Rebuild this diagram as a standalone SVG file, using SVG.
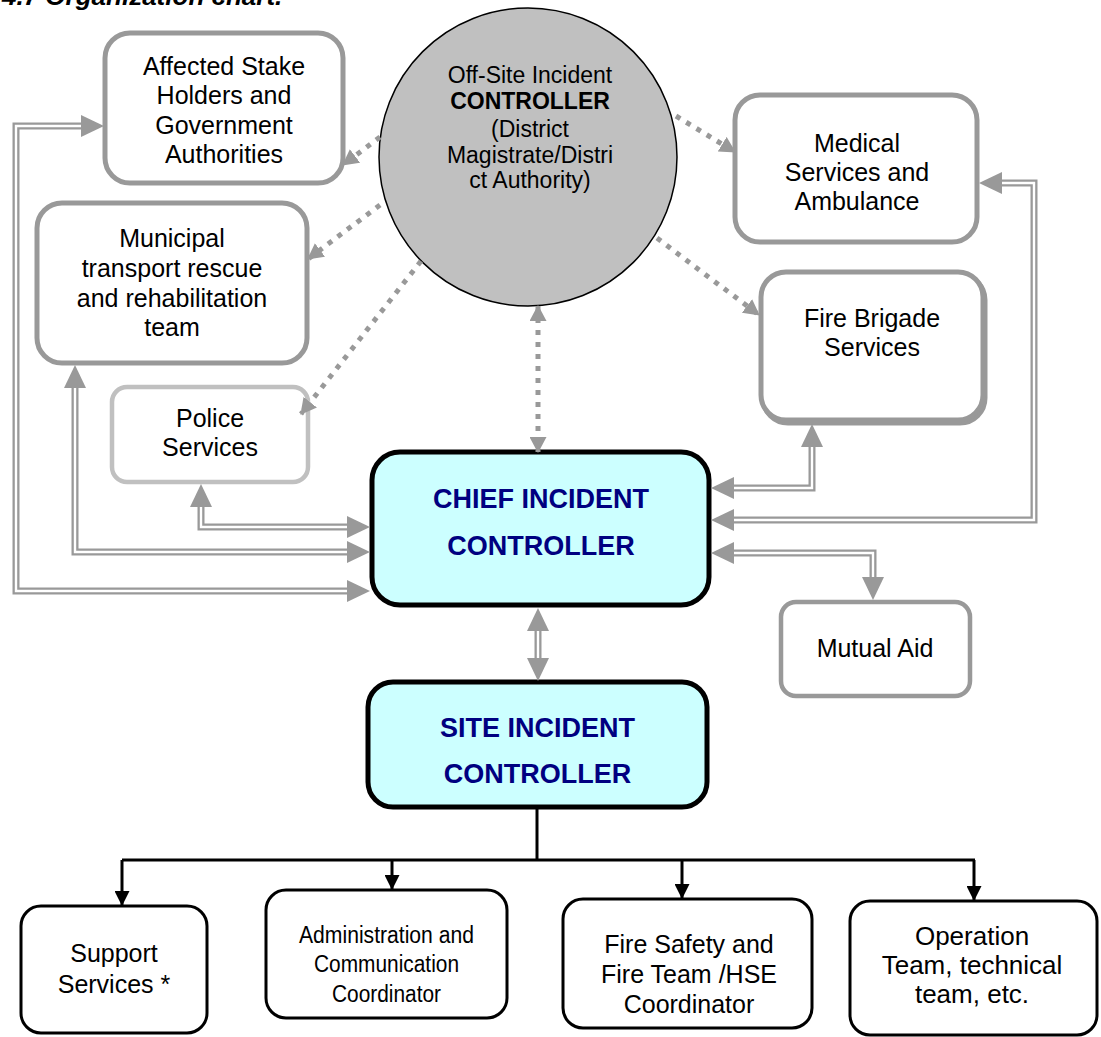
<svg xmlns="http://www.w3.org/2000/svg" xmlns:xlink="http://www.w3.org/1999/xlink" width="1101" height="1037" viewBox="0 0 1101 1037">
<style>
text{font-family:"Liberation Sans",Arial,sans-serif;text-anchor:middle;fill:#000}
.t25{font-size:25px}
.t23{font-size:23px}
.gbox{fill:#fff;stroke:#999;stroke-width:5}
.pbox{fill:#fff;stroke:#c0c0c0;stroke-width:4.5}
.bbox{fill:#fff;stroke:#000;stroke-width:3}
.cbox{fill:#ccffff;stroke:#000;stroke-width:5}
.ctl{font-size:27px;font-weight:bold;fill:#000080}
.dbo{fill:none;stroke:#999;stroke-width:7;stroke-linejoin:miter}
.dbi{fill:none;stroke:#fff;stroke-width:2.4;stroke-linejoin:miter}
.dot{fill:none;stroke:#999;stroke-width:5;stroke-dasharray:5 7}
.blk{fill:none;stroke:#000;stroke-width:3}
</style>
<defs>
<path id="ah2" d="M0,0 L-23,-11 L-23,11 Z" fill="#999"/>
<marker id="ad" viewBox="0 0 16 17" refX="15" refY="8.5" markerWidth="16" markerHeight="17" markerUnits="userSpaceOnUse" orient="auto-start-reverse">
<path d="M0,0 L16,8.5 L0,17 Z" fill="#999"/>
</marker>
<marker id="ab" viewBox="0 0 15 15" refX="14" refY="7.5" markerWidth="15" markerHeight="15" markerUnits="userSpaceOnUse" orient="auto">
<path d="M0,0 L15,7.5 L0,15 Z" fill="#000"/>
</marker>
</defs>
<rect width="1101" height="1037" fill="#fff"/>
<text x="2" y="5" style="text-anchor:start;font-size:26px;font-weight:bold;font-style:italic">4.7 Organization chart.</text>

<g id="n-offsite">
<circle cx="528" cy="157" r="149" fill="#c0c0c0" stroke="#000" stroke-width="1.5"/>
<text class="t23" x="530" y="83">Off-Site Incident</text>
<text class="t23" x="530" y="109" font-weight="bold">CONTROLLER</text>
<text class="t23" x="530" y="137">(District</text>
<text class="t23" x="530" y="163">Magistrate/Distri</text>
<text class="t23" x="530" y="188">ct Authority)</text>
</g>
<g id="n-affected">
<rect class="gbox" x="105" y="33" width="238" height="150" rx="25"/>
<text class="t25" x="224" y="75">Affected Stake</text>
<text class="t25" x="224" y="104">Holders and</text>
<text class="t25" x="224" y="134">Government</text>
<text class="t25" x="224" y="163">Authorities</text>
</g>
<g id="n-municipal">
<rect class="gbox" x="37" y="203" width="270" height="160" rx="25"/>
<text class="t25" x="172" y="247">Municipal</text>
<text class="t25" x="172" y="277">transport rescue</text>
<text class="t25" x="172" y="307">and rehabilitation</text>
<text class="t25" x="172" y="336">team</text>
</g>
<g id="n-police">
<rect class="pbox" x="112" y="387" width="196" height="95" rx="15"/>
<text class="t25" x="210" y="427">Police</text>
<text class="t25" x="210" y="456">Services</text>
</g>
<g id="n-medical">
<rect class="gbox" x="735" y="95" width="242" height="147" rx="25"/>
<text class="t25" x="857" y="152">Medical</text>
<text class="t25" x="857" y="181">Services and</text>
<text class="t25" x="857" y="210">Ambulance</text>
</g>
<g id="n-fire">
<rect class="gbox" x="763" y="275" width="222" height="148" rx="25"/>
<rect class="gbox" x="761" y="272" width="222" height="148" rx="25"/>
<text class="t25" x="872" y="327">Fire Brigade</text>
<text class="t25" x="872" y="356">Services</text>
</g>
<g id="n-chief">
<rect class="cbox" x="372" y="452" width="337" height="153" rx="28"/>
<text class="ctl" x="541" y="508">CHIEF INCIDENT</text>
<text class="ctl" x="541" y="555">CONTROLLER</text>
</g>
<g id="n-mutual">
<rect class="gbox" x="781" y="602" width="189" height="94" rx="15" style="stroke-width:4.5"/>
<text class="t25" x="875" y="657">Mutual Aid</text>
</g>
<g id="n-site">
<rect class="cbox" x="368" y="682" width="339" height="125" rx="25"/>
<text class="ctl" x="537.5" y="737">SITE INCIDENT</text>
<text class="ctl" x="537.5" y="783">CONTROLLER</text>
</g>
<g id="n-support">
<rect class="bbox" x="21" y="906" width="186" height="127" rx="20"/>
<text class="t25" x="114" y="962">Support</text>
<text class="t25" x="114" y="993">Services *</text>
</g>
<g id="n-admin">
<rect class="bbox" x="266" y="890" width="241" height="128" rx="20"/>
<text x="386.5" y="943" font-size="23" textLength="175" lengthAdjust="spacingAndGlyphs">Administration and</text>
<text x="386.5" y="972" font-size="23" textLength="145" lengthAdjust="spacingAndGlyphs">Communication</text>
<text x="386.5" y="1002" font-size="23" textLength="109" lengthAdjust="spacingAndGlyphs">Coordinator</text>
</g>
<g id="n-firesafety">
<rect class="bbox" x="563" y="899" width="249" height="129" rx="20"/>
<text class="t25" x="689" y="953">Fire Safety and</text>
<text class="t25" x="689" y="983">Fire Team /HSE</text>
<text class="t25" x="689" y="1013">Coordinator</text>
</g>
<g id="n-operation">
<rect class="bbox" x="850" y="901" width="247" height="134" rx="20"/>
<text x="972" y="945" font-size="26">Operation</text>
<text x="972" y="974" font-size="26">Team, technical</text>
<text x="972" y="1003" font-size="26">team, etc.</text>
</g>

<g id="connectors">
<g id="dotted">
<path class="dot" d="M380,137 L343,165" marker-end="url(#ad)"/>
<path class="dot" d="M380,205 L308,259" marker-end="url(#ad)"/>
<path class="dot" d="M421,261 L301,414" marker-end="url(#ad)"/>
<path class="dot" d="M676,116 L735,152" marker-end="url(#ad)"/>
<path class="dot" d="M657,238 L759,315" marker-end="url(#ad)"/>
<path class="dot" d="M538,306 L538,452" marker-start="url(#ad)" marker-end="url(#ad)"/>
</g>
<g id="double">
<path class="dbo" d="M350,591 H16 V126 H84"/>
<path class="dbo" d="M350,552 H75 V385"/>
<path class="dbo" d="M350,527 H201 V503"/>
<path class="dbo" d="M731,488 H812 V444"/>
<path class="dbo" d="M731,520 H1034 V183 H1000"/>
<path class="dbo" d="M731,553 H873 V578"/>
<path class="dbo" d="M538,630 V659"/>
<path class="dbi" d="M350,591 H16 V126 H84"/>
<path class="dbi" d="M350,552 H75 V385"/>
<path class="dbi" d="M350,527 H201 V503"/>
<path class="dbi" d="M731,488 H812 V444"/>
<path class="dbi" d="M731,520 H1034 V183 H1000"/>
<path class="dbi" d="M731,553 H873 V578"/>
<path class="dbi" d="M538,630 V659"/>
<use xlink:href="#ah2" href="#ah2" transform="translate(370,591)"/>
<use xlink:href="#ah2" href="#ah2" transform="translate(104,126)"/>
<use xlink:href="#ah2" href="#ah2" transform="translate(370,552)"/>
<use xlink:href="#ah2" href="#ah2" transform="translate(75,365) rotate(-90)"/>
<use xlink:href="#ah2" href="#ah2" transform="translate(370,527)"/>
<use xlink:href="#ah2" href="#ah2" transform="translate(201,484) rotate(-90)"/>
<use xlink:href="#ah2" href="#ah2" transform="translate(711,488) rotate(180)"/>
<use xlink:href="#ah2" href="#ah2" transform="translate(812,424) rotate(-90)"/>
<use xlink:href="#ah2" href="#ah2" transform="translate(711,520) rotate(180)"/>
<use xlink:href="#ah2" href="#ah2" transform="translate(979,183) rotate(180)"/>
<use xlink:href="#ah2" href="#ah2" transform="translate(711,553) rotate(180)"/>
<use xlink:href="#ah2" href="#ah2" transform="translate(873,600) rotate(90)"/>
<use xlink:href="#ah2" href="#ah2" transform="translate(538,608) rotate(-90)"/>
<use xlink:href="#ah2" href="#ah2" transform="translate(538,681) rotate(90)"/>
</g>
<g id="tree">
<path class="blk" d="M537,807 V860"/>
<path class="blk" d="M122,860 H975"/>
<path class="blk" d="M122,860 V905" marker-end="url(#ab)"/>
<path class="blk" d="M392,860 V889" marker-end="url(#ab)"/>
<path class="blk" d="M682,860 V898" marker-end="url(#ab)"/>
<path class="blk" d="M974,860 V900" marker-end="url(#ab)"/>
</g>
</g>
</svg>
